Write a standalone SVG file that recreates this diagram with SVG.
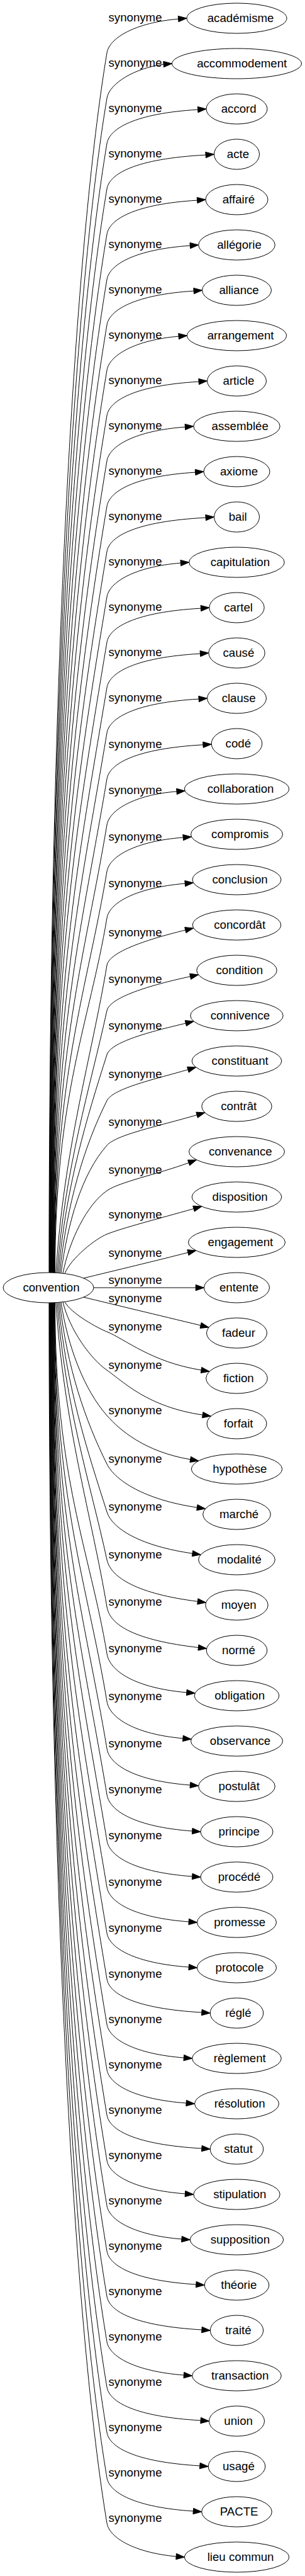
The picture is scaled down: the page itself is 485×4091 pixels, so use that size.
<svg xmlns="http://www.w3.org/2000/svg" width="485" height="4091" viewBox="0 0 485 4091">
<style>
text{font-family:"Liberation Sans",Arial,sans-serif;font-size:18.67px;fill:#000;text-anchor:middle}
.e path{fill:none;stroke:#000;stroke-width:1}
.e polygon{fill:#000;stroke:#000;stroke-width:1}
.n ellipse{fill:none;stroke:#000;stroke-width:1}
</style>
<rect width="485" height="4091" fill="#fff"/>
<g id="connectors" class="e">
<g><path d="M78,2021 C78,1052.5 120.7,380 170,84 C174,60 215,36 283.6,30.1"/><polygon points="297,29 283.95,34.7 283.25,25.4"/><text x="215" y="33.5">synonyme</text></g>
<g><path d="M78.5,2021 C78.5,1088.5 120.7,452 170,156 C174,132 215,108 260.1,102.1"/><polygon points="273.5,101 260.45,106.7 259.75,97.4"/><text x="215" y="105.5">synonyme</text></g>
<g><path d="M79,2021 C79,1124.5 120.7,524 170,228 C174,204 215,180 314.6,174.1"/><polygon points="328,173 314.95,178.7 314.25,169.4"/><text x="215" y="177.5">synonyme</text></g>
<g><path d="M79.5,2021 C79.5,1160.5 120.7,596 170,300 C174,276 215,252 327.1,246.1"/><polygon points="340.5,245 327.45,250.7 326.75,241.4"/><text x="215" y="249.5">synonyme</text></g>
<g><path d="M80,2021 C80,1196.5 120.7,668 170,372 C174,348 215,324 313.6,318.1"/><polygon points="327,317 313.95,322.7 313.25,313.4"/><text x="215" y="321.5">synonyme</text></g>
<g><path d="M80.5,2021 C80.5,1232.5 120.7,740 170,444 C174,420 215,396 302.3,390.1"/><polygon points="315.7,389 302.65,394.7 301.95,385.4"/><text x="215" y="393.5">synonyme</text></g>
<g><path d="M81,2021 C81,1268.5 120.7,812 170,516 C174,492 215,468 308.1,462.1"/><polygon points="321.5,461 308.45,466.7 307.75,457.4"/><text x="215" y="465.5">synonyme</text></g>
<g><path d="M81.5,2021 C81.5,1304.5 120.7,884 170,588 C174,564 215,540 284.1,534.1"/><polygon points="297.5,533 284.45,538.7 283.75,529.4"/><text x="215" y="537.5">synonyme</text></g>
<g><path d="M82,2021 C82,1340.5 120.7,956 170,660 C174,636 215,612 316.1,606.1"/><polygon points="329.5,605 316.45,610.7 315.75,601.4"/><text x="215" y="609.5">synonyme</text></g>
<g><path d="M82.5,2021 C82.5,1376.5 120.7,1028 170,732 C174,708 215,684 294.4,678.1"/><polygon points="307.8,677 294.75,682.7 294.05,673.4"/><text x="215" y="681.5">synonyme</text></g>
<g><path d="M83,2021 C83,1412.5 120.7,1100 170,804 C174,780 215,756 310.6,750.1"/><polygon points="324,749 310.95,754.7 310.25,745.4"/><text x="215" y="753.5">synonyme</text></g>
<g><path d="M83.5,2021 C83.5,1448.5 120.7,1172 170,876 C174,852 215,828 327.1,822.1"/><polygon points="340.5,821 327.45,826.7 326.75,817.4"/><text x="215" y="825.5">synonyme</text></g>
<g><path d="M84,2021 C84,1484.5 120.7,1244 170,948 C174,924 215,900 287.3,894.1"/><polygon points="300.7,893 287.65,898.7 286.95,889.4"/><text x="215" y="897.5">synonyme</text></g>
<g><path d="M84.5,2021 C84.5,1520.5 120.7,1316 170,1020 C174,996 215,972 319.4,966.1"/><polygon points="332.8,965 319.75,970.7 319.05,961.4"/><text x="215" y="969.5">synonyme</text></g>
<g><path d="M85,2021 C85,1556.5 124.2,1366.9 170,1092 C174,1068 215,1044 318.4,1038.1"/><polygon points="331.8,1037 318.75,1042.7 318.05,1033.4"/><text x="215" y="1041.5">synonyme</text></g>
<g><path d="M85.5,2021 C85.5,1592.5 127.7,1417.6 170,1164 C174,1140 215,1116 316.1,1110.1"/><polygon points="329.5,1109 316.45,1114.7 315.75,1105.4"/><text x="215" y="1113.5">synonyme</text></g>
<g><path d="M86,2021 C86,1629 131.3,1469 170,1237 C174,1213 215,1189 322.9,1182.8"/><polygon points="336.2,1182 323.2,1187.4 322.6,1178.1"/><text x="215" y="1187.5">synonyme</text></g>
<g><path d="M86.5,2021 C86.5,1665.5 134.9,1520.4 170,1310 C174,1286 215,1262 280.9,1257"/><polygon points="294.2,1256 281.3,1261.7 280.6,1252.3"/><text x="215" y="1260.5">synonyme</text></g>
<g><path d="M87,2021 C87,1702.5 138.6,1572.5 170,1384 C174,1360 215,1336 291.2,1330"/><polygon points="304.5,1329 291.6,1334.7 290.8,1325.4"/><text x="215" y="1334.5">synonyme</text></g>
<g><path d="M87.5,2021 C87.5,1739.5 142.2,1624.6 170,1458 C174,1434 215,1410 294.2,1403.1"/><polygon points="307.5,1402 294.6,1407.8 293.8,1398.5"/><text x="215" y="1408.5">synonyme</text></g>
<g><path d="M89,2021.3 C101.2,1826 145.9,1677.5 170,1533 C174,1509 250,1488 294.8,1477.1"/><polygon points="307.7,1474 295.9,1481.6 293.7,1472.6"/><text x="215" y="1486.5">synonyme</text></g>
<g><path d="M91,2021.3 C102.9,1854.9 143.4,1727.1 170,1605 C175,1582 250,1562 302.6,1550.8"/><polygon points="315.6,1548 303.6,1555.4 301.6,1546.2"/><text x="215" y="1560.5">synonyme</text></g>
<g><path d="M93,2021.4 C104.6,1883 138.5,1774.1 170,1675 C177,1653 250,1636 295.3,1625.1"/><polygon points="308.2,1622 296.4,1629.6 294.2,1620.6"/><text x="215" y="1634.5">synonyme</text></g>
<g><path d="M95,2021.5 C106.3,1912.2 133.3,1821.4 170,1748 C180,1728 250,1713 298.9,1698.7"/><polygon points="311.7,1695 300.2,1703.2 297.6,1694.2"/><text x="215" y="1711.5">synonyme</text></g>
<g><path d="M97,2021.7 C108,1940.7 129.7,1864.7 170,1819 C185,1802 250,1789 313.1,1770.7"/><polygon points="325.9,1767 314.4,1775.2 311.8,1766.2"/><text x="215" y="1787.5">synonyme</text></g>
<g><path d="M100,2022 C110.5,1969.7 137.7,1913.6 170,1891 C190,1877 250,1865 300.1,1846.6"/><polygon points="312.6,1842 301.7,1851 298.5,1842.2"/><text x="215" y="1863.5">synonyme</text></g>
<g><path d="M103,2022.6 C113,1997.6 152.5,1967 170,1960 C195,1950 250,1936 308,1919.6"/><polygon points="320.8,1916 309.3,1924.1 306.7,1915.1"/><text x="215" y="1934.5">synonyme</text></g>
<g><path d="M133,2029.9 C180,2018.5 250,2001.7 298.9,1989.2"/><polygon points="311.8,1986 300,1993.7 297.8,1984.7"/><text x="215" y="1995.5">synonyme</text></g>
<g><path d="M149,2045 L311.2,2045"/><polygon points="324.5,2045 311.2,2049.7 311.2,2040.3"/><text x="215" y="2038.5">synonyme</text></g>
<g><path d="M133,2060.1 C180,2071.5 250,2088.3 319.1,2104.9"/><polygon points="332,2108 318,2109.4 320.2,2100.4"/><text x="215" y="2067.5">synonyme</text></g>
<g><path d="M103,2067.4 C113,2086.4 156.7,2109.7 170,2115 C199.2,2126.7 240,2163 320,2175.9"/><polygon points="333.1,2178 319.3,2180.5 320.7,2171.3"/><text x="215" y="2112.5">synonyme</text></g>
<g><path d="M100,2067.8 C110.5,2111.1 143.4,2157.4 170,2176 C197,2194.9 235,2234.4 322.2,2247.1"/><polygon points="335.4,2249 321.5,2251.7 322.9,2242.5"/><text x="215" y="2173.5">synonyme</text></g>
<g><path d="M97,2068.1 C108,2140.1 134.3,2207.5 170,2248 C190,2270.7 230,2305.6 302.7,2317.8"/><polygon points="315.8,2320 301.9,2322.4 303.5,2313.2"/><text x="215" y="2245.5">synonyme</text></g>
<g><path d="M95,2068.3 C106.3,2171 135.6,2256.1 170,2325 C183.1,2351.3 230,2381.8 313.4,2394.1"/><polygon points="326.6,2396 312.7,2398.7 314.1,2389.5"/><text x="215" y="2322.5">synonyme</text></g>
<g><path d="M93,2068.4 C104.6,2201.4 139.7,2305.9 170,2401 C178.8,2428.7 225,2455.4 306,2467.1"/><polygon points="319.2,2469 305.3,2471.7 306.7,2462.5"/><text x="215" y="2398.5">synonyme</text></g>
<g><path d="M91,2068.5 C102.9,2231.9 144,2357.2 170,2477 C176.3,2506 220,2531.4 314.3,2543.3"/><polygon points="327.5,2545 313.7,2547.9 314.9,2538.7"/><text x="215" y="2474.5">synonyme</text></g>
<g><path d="M89,2068.7 C101.2,2262 146.2,2409 170,2552 C174.9,2581.3 215,2604.8 315.4,2616.5"/><polygon points="328.6,2618 314.9,2621.1 315.9,2611.9"/><text x="215" y="2549.5">synonyme</text></g>
<g><path d="M87.5,2069 C87.5,2347.5 142.5,2461.2 170,2626 C174,2653.7 215,2680.8 296.8,2687.9"/><polygon points="310.1,2689 296.4,2692.5 297.2,2683.2"/><text x="215" y="2623.5">synonyme</text></g>
<g><path d="M87,2069 C87,2385.5 138.8,2514.7 170,2702 C174,2728.4 215,2754.2 290.9,2760.8"/><polygon points="304.1,2762 290.5,2765.5 291.3,2756.1"/><text x="215" y="2699.5">synonyme</text></g>
<g><path d="M86.5,2069 C86.5,2423 135.1,2567.5 170,2777 C174,2803 215,2828.3 302.4,2835"/><polygon points="315.7,2836 302,2839.6 302.8,2830.3"/><text x="215" y="2774.5">synonyme</text></g>
<g><path d="M86,2069 C86,2459.5 131.5,2618.9 170,2850 C174,2876 215,2901.3 305.7,2908"/><polygon points="319,2909 305.4,2912.7 306,2903.3"/><text x="215" y="2847.5">synonyme</text></g>
<g><path d="M85.5,2069 C85.5,2496 127.9,2670.3 170,2923 C174,2948.5 215,2973.5 305.7,2980"/><polygon points="319,2981 305.4,2984.7 306,2975.3"/><text x="215" y="2920.5">synonyme</text></g>
<g><path d="M85,2069 C85,2533 124.2,2722.4 170,2997 C174,3021.6 215,3045.7 300.2,3052"/><polygon points="313.5,3053 299.9,3056.7 300.5,3047.3"/><text x="215" y="2994.5">synonyme</text></g>
<g><path d="M84.5,2069 C84.5,2569.5 120.7,2774.1 170,3070 C174,3094.2 215,3117.9 300.2,3124"/><polygon points="313.5,3125 299.9,3128.7 300.5,3119.3"/><text x="215" y="3067.5">synonyme</text></g>
<g><path d="M84,2069 C84,2606 120.7,2847.1 170,3143 C174,3166.8 215,3190 320.8,3196"/><polygon points="334.2,3197 320.45,3200.7 321.15,3191.3"/><text x="215" y="3140.5">synonyme</text></g>
<g><path d="M83.5,2069 C83.5,2642 120.7,2919.1 170,3215 C174,3238.8 215,3262 292.3,3268"/><polygon points="305.7,3269 291.95,3272.7 292.65,3263.3"/><text x="215" y="3212.5">synonyme</text></g>
<g><path d="M83,2069 C83,2678 120.7,2991.1 170,3287 C174,3310.8 215,3334 296.1,3340"/><polygon points="309.5,3341 295.75,3344.7 296.45,3335.3"/><text x="215" y="3284.5">synonyme</text></g>
<g><path d="M82.5,2069 C82.5,2714 120.7,3063.1 170,3359 C174,3382.8 215,3406 320.8,3412"/><polygon points="334.2,3413 320.45,3416.7 321.15,3407.3"/><text x="215" y="3356.5">synonyme</text></g>
<g><path d="M82,2069 C82,2750 120.7,3135.1 170,3431 C174,3454.8 215,3478 294.4,3484"/><polygon points="307.8,3485 294.05,3488.7 294.75,3479.3"/><text x="215" y="3428.5">synonyme</text></g>
<g><path d="M81.5,2069 C81.5,2786 120.7,3207.1 170,3503 C174,3526.8 215,3550 288.9,3556"/><polygon points="302.3,3557 288.55,3560.7 289.25,3551.3"/><text x="215" y="3500.5">synonyme</text></g>
<g><path d="M81,2069 C81,2822 120.7,3279.1 170,3575 C174,3598.8 215,3622 311.8,3628"/><polygon points="325.2,3629 311.45,3632.7 312.15,3623.3"/><text x="215" y="3572.5">synonyme</text></g>
<g><path d="M80.5,2069 C80.5,2858 120.7,3351.1 170,3647 C174,3670.8 215,3694 320.9,3700"/><polygon points="334.3,3701 320.55,3704.7 321.25,3695.3"/><text x="215" y="3644.5">synonyme</text></g>
<g><path d="M80,2069 C80,2894 120.7,3423.1 170,3719 C174,3742.8 215,3766 292.3,3772"/><polygon points="305.7,3773 291.95,3776.7 292.65,3767.3"/><text x="215" y="3716.5">synonyme</text></g>
<g><path d="M79.5,2069 C79.5,2930 120.7,3495.1 170,3791 C174,3814.8 215,3838 319.1,3844"/><polygon points="332.5,3845 318.75,3848.7 319.45,3839.3"/><text x="215" y="3788.5">synonyme</text></g>
<g><path d="M79,2069 C79,2966 120.7,3567.1 170,3863 C174,3886.8 215,3910 317.8,3916"/><polygon points="331.2,3917 317.45,3920.7 318.15,3911.3"/><text x="215" y="3860.5">synonyme</text></g>
<g><path d="M78.5,2069 C78.5,3002 120.7,3639.1 170,3935 C174,3958.8 215,3982 307.3,3988"/><polygon points="320.7,3989 306.95,3992.7 307.65,3983.3"/><text x="215" y="3932.5">synonyme</text></g>
<g><path d="M78,2069 C78,3038 120.7,3711.1 170,4007 C174,4030.8 215,4054 280.1,4060"/><polygon points="293.5,4061 279.75,4064.7 280.45,4055.3"/><text x="215" y="4004.5">synonyme</text></g>
</g>
<g id="nodes" class="n">
<g id="n-convention"><ellipse cx="77" cy="2045" rx="72" ry="24"/><text x="81.5" y="2051">convention</text></g>
<g id="n-academisme"><ellipse cx="376.5" cy="29" rx="79.5" ry="24"/><text x="382.6" y="35">académisme</text></g>
<g id="n-accommodement"><ellipse cx="376.5" cy="101" rx="103" ry="24"/><text x="384.7" y="107">accommodement</text></g>
<g id="n-accord"><ellipse cx="376.5" cy="173" rx="48.5" ry="24"/><text x="379.7" y="179">accord</text></g>
<g id="n-acte"><ellipse cx="376.5" cy="245" rx="36" ry="24"/><text x="378.5" y="251">acte</text></g>
<g id="n-affaire"><ellipse cx="376.5" cy="317" rx="49.5" ry="24"/><text x="379.5" y="323">affairé</text></g>
<g id="n-allegorie"><ellipse cx="376.5" cy="389" rx="60.8" ry="24"/><text x="380.5" y="395">allégorie</text></g>
<g id="n-alliance"><ellipse cx="376.5" cy="461" rx="55" ry="24"/><text x="380.1" y="467">alliance</text></g>
<g id="n-arrangement"><ellipse cx="376.5" cy="533" rx="79" ry="24"/><text x="382.6" y="539">arrangement</text></g>
<g id="n-article"><ellipse cx="376.5" cy="605" rx="47" ry="24"/><text x="379.4" y="611">article</text></g>
<g id="n-assemblee"><ellipse cx="376.5" cy="677" rx="68.7" ry="24"/><text x="381.7" y="683">assemblée</text></g>
<g id="n-axiome"><ellipse cx="376.5" cy="749" rx="52.5" ry="24"/><text x="380" y="755">axiome</text></g>
<g id="n-bail"><ellipse cx="376.5" cy="821" rx="36" ry="24"/><text x="378.2" y="827">bail</text></g>
<g id="n-capitulation"><ellipse cx="376.5" cy="893" rx="75.8" ry="24"/><text x="381.9" y="899">capitulation</text></g>
<g id="n-cartel"><ellipse cx="376.5" cy="965" rx="43.7" ry="24"/><text x="379.1" y="971">cartel</text></g>
<g id="n-cause"><ellipse cx="376.5" cy="1037" rx="44.7" ry="24"/><text x="379.4" y="1043">causé</text></g>
<g id="n-clause"><ellipse cx="376.5" cy="1109" rx="47" ry="24"/><text x="379.6" y="1115">clause</text></g>
<g id="n-code"><ellipse cx="376.5" cy="1181" rx="40.3" ry="24"/><text x="378.8" y="1187">codé</text></g>
<g id="n-collaboration"><ellipse cx="376.5" cy="1253" rx="83" ry="24"/><text x="382.6" y="1259">collaboration</text></g>
<g id="n-compromis"><ellipse cx="376.5" cy="1325" rx="73" ry="24"/><text x="381.7" y="1331">compromis</text></g>
<g id="n-conclusion"><ellipse cx="376.5" cy="1397" rx="70.5" ry="24"/><text x="381.6" y="1403">conclusion</text></g>
<g id="n-concordat"><ellipse cx="376.5" cy="1469" rx="70.3" ry="24"/><text x="381.2" y="1475">concordât</text></g>
<g id="n-condition"><ellipse cx="376.5" cy="1541" rx="63.7" ry="24"/><text x="380.8" y="1547">condition</text></g>
<g id="n-connivence"><ellipse cx="376.5" cy="1613" rx="73.7" ry="24"/><text x="381.9" y="1619">connivence</text></g>
<g id="n-constituant"><ellipse cx="376.5" cy="1685" rx="71.3" ry="24"/><text x="381.7" y="1691">constituant</text></g>
<g id="n-contrat"><ellipse cx="376.5" cy="1757" rx="55.7" ry="24"/><text x="379.8" y="1763">contrât</text></g>
<g id="n-convenance"><ellipse cx="376.5" cy="1829" rx="76" ry="24"/><text x="382.3" y="1835">convenance</text></g>
<g id="n-disposition"><ellipse cx="376.5" cy="1901" rx="71.3" ry="24"/><text x="381.6" y="1907">disposition</text></g>
<g id="n-engagement"><ellipse cx="376.5" cy="1973" rx="77" ry="24"/><text x="382.4" y="1979">engagement</text></g>
<g id="n-entente"><ellipse cx="376.5" cy="2045" rx="52" ry="24"/><text x="380.1" y="2051">entente</text></g>
<g id="n-fadeur"><ellipse cx="376.5" cy="2117" rx="48" ry="24"/><text x="379.5" y="2123">fadeur</text></g>
<g id="n-fiction"><ellipse cx="376.5" cy="2189" rx="48.8" ry="24"/><text x="379.3" y="2195">fiction</text></g>
<g id="n-forfait"><ellipse cx="376.5" cy="2261" rx="47.5" ry="24"/><text x="379.2" y="2267">forfait</text></g>
<g id="n-hypothese"><ellipse cx="376.5" cy="2333" rx="72.2" ry="24"/><text x="381.4" y="2339">hypothèse</text></g>
<g id="n-marche"><ellipse cx="376.5" cy="2405" rx="53.8" ry="24"/><text x="380.1" y="2411">marché</text></g>
<g id="n-modalite"><ellipse cx="376.5" cy="2477" rx="60.8" ry="24"/><text x="380.5" y="2483">modalité</text></g>
<g id="n-moyen"><ellipse cx="376.5" cy="2549" rx="49.7" ry="24"/><text x="379.7" y="2555">moyen</text></g>
<g id="n-norme"><ellipse cx="376.5" cy="2621" rx="48.3" ry="24"/><text x="379.5" y="2627">normé</text></g>
<g id="n-obligation"><ellipse cx="376.5" cy="2693" rx="67.3" ry="24"/><text x="381.1" y="2699">obligation</text></g>
<g id="n-observance"><ellipse cx="376.5" cy="2765" rx="73" ry="24"/><text x="382" y="2771">observance</text></g>
<g id="n-postulat"><ellipse cx="376.5" cy="2837" rx="60.8" ry="24"/><text x="380.2" y="2843">postulât</text></g>
<g id="n-principe"><ellipse cx="376.5" cy="2909" rx="57.5" ry="24"/><text x="380.2" y="2915">principe</text></g>
<g id="n-procede"><ellipse cx="376.5" cy="2981" rx="57.5" ry="24"/><text x="380.4" y="2987">procédé</text></g>
<g id="n-promesse"><ellipse cx="376.5" cy="3053" rx="63" ry="24"/><text x="381.2" y="3059">promesse</text></g>
<g id="n-protocole"><ellipse cx="376.5" cy="3125" rx="63" ry="24"/><text x="380.9" y="3131">protocole</text></g>
<g id="n-regle"><ellipse cx="376.5" cy="3197" rx="42.3" ry="24"/><text x="378.9" y="3203">réglé</text></g>
<g id="n-reglement"><ellipse cx="376.5" cy="3269" rx="70.8" ry="24"/><text x="381.3" y="3275">règlement</text></g>
<g id="n-resolution"><ellipse cx="376.5" cy="3341" rx="67" ry="24"/><text x="381.1" y="3347">résolution</text></g>
<g id="n-statut"><ellipse cx="376.5" cy="3413" rx="42.3" ry="24"/><text x="379.1" y="3419">statut</text></g>
<g id="n-stipulation"><ellipse cx="376.5" cy="3485" rx="68.7" ry="24"/><text x="381.3" y="3491">stipulation</text></g>
<g id="n-supposition"><ellipse cx="376.5" cy="3557" rx="74.2" ry="24"/><text x="381.9" y="3563">supposition</text></g>
<g id="n-theorie"><ellipse cx="376.5" cy="3629" rx="51.3" ry="24"/><text x="379.8" y="3635">théorie</text></g>
<g id="n-traite"><ellipse cx="376.5" cy="3701" rx="42.2" ry="24"/><text x="378.9" y="3707">traité</text></g>
<g id="n-transaction"><ellipse cx="376.5" cy="3773" rx="70.8" ry="24"/><text x="381.7" y="3779">transaction</text></g>
<g id="n-union"><ellipse cx="376.5" cy="3845" rx="44" ry="24"/><text x="379.1" y="3851">union</text></g>
<g id="n-usage"><ellipse cx="376.5" cy="3917" rx="45.3" ry="24"/><text x="379.4" y="3923">usagé</text></g>
<g id="n-pacte"><ellipse cx="376.5" cy="3989" rx="55.8" ry="24"/><text x="380.1" y="3995">PACTE</text></g>
<g id="n-lieu-commun"><ellipse cx="376.5" cy="4061" rx="83" ry="24"/><text x="382.6" y="4067">lieu commun</text></g>
</g>
</svg>
